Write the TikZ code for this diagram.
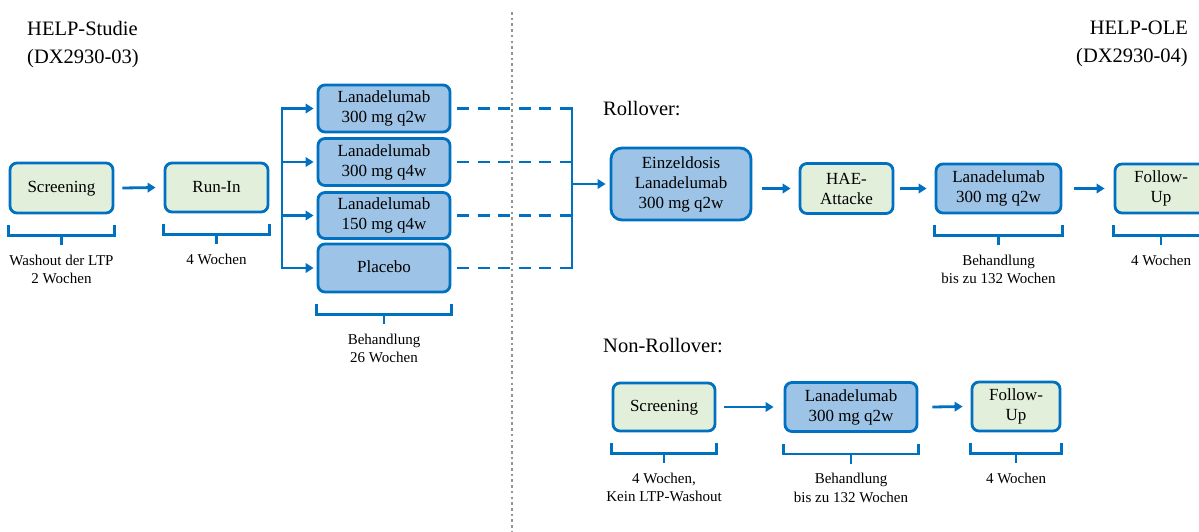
\documentclass[tikz,border=0pt]{standalone}
\usepackage{fontspec}
\setmainfont{Liberation Serif}
\usetikzlibrary{arrows.meta,calc}
\definecolor{bord}{HTML}{0070C0}
\definecolor{gfill}{HTML}{E2EFDA}
\definecolor{bfill}{HTML}{9DC3E6}
\newcommand\mybrk[3]{%
 \draw[brk] ([yshift=-11pt]#1.south west) -- ([yshift=-21pt]#1.south west) -- ([yshift=-21pt]#1.south east) -- ([yshift=-11pt]#1.south east);
 \draw[brk] ([yshift=-21pt]#1.south) -- ([yshift=-31pt]#1.south);
 \node[lbl] (#2) at ([yshift=-40pt]#1.south) {#3};
}
\begin{document}
\begin{tikzpicture}[x=1pt,y=-1pt,
  box/.style={draw=bord,line width=2.8pt,rounded corners=7pt,inner sep=0pt,align=center,font=\fontsize{17}{20}\selectfont},
  one/.style={text height=13.5pt,text depth=3.7pt},
  gbox/.style={box,fill=gfill},
  bbox/.style={box,fill=bfill},
  arr/.style={draw=bord,line width=2.8pt,-{Triangle[length=8pt,width=9.5pt]}},
  ln/.style={draw=bord,line width=2.8pt,line cap=rect},
  dsh/.style={draw=bord,line width=2.8pt,dash pattern=on 12pt off 8.5pt},
  brk/.style={draw=bord,line width=2.8pt},
  lbl/.style={align=center,font=\fontsize{15}{18.5}\selectfont,inner sep=0pt,anchor=north},
  head/.style={font=\fontsize{20.5}{28}\selectfont,inner sep=0pt}
]
\clip (0,0) rectangle (1199,531);
\useasboundingbox (0,0) rectangle (1199,531);
\fill[white] (0,0) rectangle (1199,531);

% headers
\node[head,align=left,anchor=north west] (hs) at (27,21) {HELP-Studie\\(DX2930-03)};
\node[head,align=right,anchor=north east] (ho) at (1188,21) {HELP-OLE\\(DX2930-04)};
\node[head,anchor=base west] (ro) at (603,115) {Rollover:};
\node[head,anchor=base west] (nro) at (603,352) {Non-Rollover:};

% divider
\coordinate (dtop) at (512,12);
\coordinate (dbot) at (512,531);
\draw[black!42,line width=2.6pt,dash pattern=on 2.6pt off 3.1pt] (dtop) -- (dbot);

% left study
\node[gbox,one,minimum width=103pt,minimum height=50pt] (scr) at (61.5,188) {Screening};
\node[gbox,one,minimum width=103pt,minimum height=49pt] (run) at (216.5,187.5) {Run-In};
\node[bbox,minimum width=132pt,minimum height=47pt] (t1) at (384,108.5) {Lanadelumab\\300 mg q2w};
\node[bbox,minimum width=132pt,minimum height=47pt] (t2) at (384,162) {Lanadelumab\\300 mg q4w};
\node[bbox,minimum width=132pt,minimum height=46pt] (t3) at (384,215.5) {Lanadelumab\\150 mg q4w};
\node[bbox,one,minimum width=132pt,minimum height=48pt] (t4) at (384,268) {Placebo};

\draw[arr] ([xshift=8pt]scr.east) -- ([xshift=-8pt]run.west);

\coordinate (btop) at (282,108.5);
\coordinate (bbot) at (282,268);
\draw[ln] (btop) -- (bbot);
\foreach \t in {t1,t2,t3,t4}{
  \draw[arr] (btop |- \t.west) -- ([xshift=-3pt]\t.west);
}

\mybrk{scr}{l1}{Washout der LTP\\2 Wochen}
\mybrk{run}{l2}{4 Wochen}
\mybrk{t4}{l3}{Behandlung\\26 Wochen}

% rollover merge
\coordinate (jtop) at (572,108.5);
\coordinate (jbot) at (572,268);
\foreach \t in {t1,t2,t3,t4}{
  \draw[dsh] ([xshift=6pt]\t.east) -- (jtop |- \t.east);
}
\draw[ln] (jtop) -- (jbot);

% rollover
\node[bbox,minimum width=140pt,minimum height=72pt,rounded corners=11pt] (eins) at (681,184) {Einzeldosis\\Lanadelumab\\300 mg q2w};
\node[gbox,minimum width=93pt,minimum height=50pt] (hae) at (846.5,188.5) {HAE-\\Attacke};
\node[bbox,minimum width=125pt,minimum height=49pt] (lan1) at (998.5,188.5) {Lanadelumab\\300 mg q2w};
\node[gbox,minimum width=92pt,minimum height=49pt] (fu1) at (1161,188.5) {Follow-\\Up};

\draw[arr] (jtop |- eins.west) -- ([xshift=-4pt]eins.west);
\draw[arr] ([xshift=10pt]eins.east |- hae.west) -- ([xshift=-8pt]hae.west);
\draw[arr] ([xshift=6pt]hae.east) -- ([xshift=-8pt]lan1.west);
\draw[arr] ([xshift=12pt]lan1.east) -- ([xshift=-9pt]fu1.west);

\mybrk{lan1}{l4}{Behandlung\\bis zu 132 Wochen}
\mybrk{fu1}{l5}{4 Wochen}

% non-rollover
\node[gbox,one,minimum width=102pt,minimum height=48pt] (scr2) at (664,407) {Screening};
\node[bbox,minimum width=132pt,minimum height=49pt] (lan2) at (851,407) {Lanadelumab\\300 mg q2w};
\node[gbox,minimum width=88pt,minimum height=49pt] (fu2) at (1016,406.5) {Follow-\\Up};

\draw[arr] ([xshift=8pt]scr2.east) -- ([xshift=-10pt]lan2.west);
\draw[arr] ([xshift=14pt]lan2.east) -- ([xshift=-8pt]fu2.west);

\mybrk{scr2}{l6}{4 Wochen,\\Kein LTP-Washout}
\mybrk{lan2}{l7}{Behandlung\\bis zu 132 Wochen}
\mybrk{fu2}{l8}{4 Wochen}
\end{tikzpicture}
\end{document}
